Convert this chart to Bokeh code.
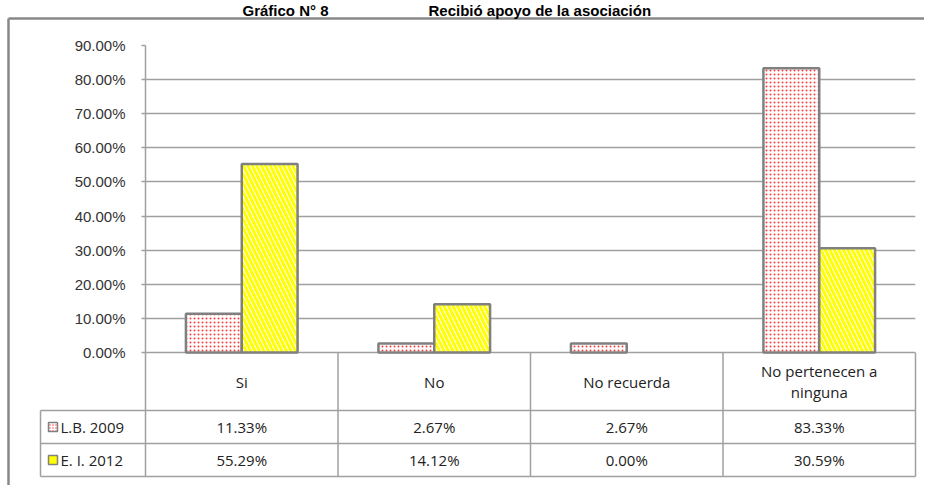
from bokeh.plotting import figure
from bokeh.models import FactorRange, Range1d, FixedTicker, PrintfTickFormatter, ColumnDataSource
from bokeh.transform import dodge
from bokeh.embed import file_html
from bokeh.resources import INLINE
from bokeh.core.properties import value

# ---- data ----
categories = ["Si", "No", "No recuerda", "No pertenecen a ninguna"]
header_labels = ["Si", "No", "No recuerda", "No pertenecen a\nninguna"]
series_names = ["L.B. 2009", "E. I. 2012"]
lb_2009 = [11.33, 2.67, 2.67, 83.33]
ei_2012 = [55.29, 14.12, 0.00, 30.59]
y_ticks = [0, 10, 20, 30, 40, 50, 60, 70, 80, 90]
title_left = "Gráfico N° 8"
title_right = "Recibió apoyo de la asociación"

# ---- layout geometry (pixels) ----
W, H = 924, 485
FL, FR, FT, FB = 145, 915, 45, 476          # frame edges on canvas
CHART_PX = 307                               # 0..90 %
PPU = CHART_PX / 90.0                        # px per % unit
COL_PX = (FR - FL) / 4.0                     # px per category
HEADER_H = 58 / PPU
ROW_H = 33 / PPU
Y_MIN = -(HEADER_H + 2 * ROW_H)
LEG_X0 = -105 / COL_PX                       # left edge of legend column

GRID = "#a0a0a0"
TXT = "#222222"

p = figure(width=W, height=H, x_range=FactorRange(*categories), y_range=Range1d(Y_MIN, 90),
           output_backend="svg", toolbar_location=None, x_axis_location=None,
           min_border_left=FL, min_border_right=W - FR, min_border_top=FT, min_border_bottom=H - FB,
           outline_line_color=None, background_fill_color="white", border_fill_color="white")

# y axis
ya = p.yaxis[0]
ya.ticker = FixedTicker(ticks=y_ticks)
ya.formatter = PrintfTickFormatter(format="%.2f%%")
ya.axis_line_color = GRID
ya.axis_line_width = 1.5
ya.major_tick_line_color = GRID
ya.major_tick_line_width = 1.5
ya.major_tick_out = 4
ya.major_tick_in = 0
ya.minor_tick_line_color = None
ya.major_label_standoff = 16
ya.major_label_text_font = "Liberation Sans"
ya.major_label_text_font_size = "15px"
ya.major_label_text_color = "#333333"

p.xgrid.grid_line_color = None
p.ygrid.grid_line_color = GRID
p.ygrid.grid_line_width = 1.5

src = ColumnDataSource(dict(cat=categories, lb=lb_2009, ei=ei_2012,
                            lb_line=[0.0 if v == 0 else 1.0 for v in lb_2009],
                            ei_line=[0.0 if v == 0 else 1.0 for v in ei_2012],
                            lb_txt=[f"{v:.2f}%" for v in lb_2009],
                            ei_txt=[f"{v:.2f}%" for v in ei_2012],
                            head=header_labels))

BAR_W = 0.29
p.vbar(x=dodge("cat", -BAR_W / 2, range=p.x_range), top="lb", width=BAR_W, bottom=0, source=src,
       fill_color="white", line_color="#808080", line_width=2.5, line_alpha="lb_line",
       hatch_pattern="dot", hatch_color="#ff3b3b", hatch_scale=4, hatch_weight=1.5)
p.vbar(x=dodge("cat", BAR_W / 2, range=p.x_range), top="ei", width=BAR_W, bottom=0, source=src,
       fill_color="white", line_color="#808080", line_width=2.5, line_alpha="ei_line",
       hatch_pattern="\\", hatch_color="#ffff00", hatch_scale=9, hatch_weight=3)

# ---- data table under the chart ----
y_h = -HEADER_H
y_r1 = -(HEADER_H + ROW_H)
y_r2 = Y_MIN
seg = dict(
    x0=[LEG_X0, LEG_X0, LEG_X0, 1, 2, 3, 4, LEG_X0],
    y0=[y_h, y_r1, y_r2, 0, 0, 0, 0, y_h],
    x1=[4, 4, 4, 1, 2, 3, 4, LEG_X0],
    y1=[y_h, y_r1, y_r2, y_r2, y_r2, y_r2, y_r2, y_r2],
)
r = p.segment(source=ColumnDataSource(seg), x0="x0", y0="y0", x1="x1", y1="y1",
              line_color=GRID, line_width=1.5)
r.level = "overlay"

p.text(x="cat", y=-HEADER_H / 2, text="head", source=src, text_align="center", text_baseline="middle",
       text_font=value("Open Sans"), text_font_size="15px", text_color=TXT, text_line_height=1.05)
p.text(x="cat", y=-(HEADER_H + ROW_H / 2), text="lb_txt", source=src, text_align="center",
       text_baseline="middle", text_font=value("Open Sans"), text_font_size="15px", text_color=TXT)
p.text(x="cat", y=-(HEADER_H + 1.5 * ROW_H), text="ei_txt", source=src, text_align="center",
       text_baseline="middle", text_font=value("Open Sans"), text_font_size="15px", text_color=TXT)

leg_y = [-(HEADER_H + ROW_H / 2), -(HEADER_H + 1.5 * ROW_H)]
sw_x = LEG_X0 + 12.5 / COL_PX
txt_x = LEG_X0 + 20 / COL_PX
r = p.rect(x=[sw_x], y=[leg_y[0]], width=9, height=9, width_units="screen", height_units="screen",
           fill_color="white", line_color="#808080", line_width=1.5,
           hatch_pattern="dot", hatch_color="#ff3b3b", hatch_scale=3, hatch_weight=1)
r.level = "overlay"
r = p.rect(x=[sw_x], y=[leg_y[1]], width=9, height=9, width_units="screen", height_units="screen",
           fill_color="white", line_color="#808080", line_width=1.5,
           hatch_pattern="\\", hatch_color="#ffff00", hatch_scale=6, hatch_weight=3)
r.level = "overlay"
r = p.text(x=[txt_x, txt_x], y=leg_y, text=series_names, text_align="left", text_baseline="middle",
           text_font=value("Open Sans"), text_font_size="15px", text_color=TXT)
r.level = "overlay"

# ---- outer frame and title ----
bx = -(FL - 8) / COL_PX
by = 90 + (FT - 18) / PPU
r = p.segment(x0=[bx, bx], y0=[by, by], x1=[bx, 5], y1=[Y_MIN - 20, by],
              line_color="#888888", line_width=2.5)
r.level = "overlay"

ty = 90 + (FT - 1) / PPU
r = p.text(x=[(242 - FL) / COL_PX, (428 - FL) / COL_PX], y=[ty, ty],
           text=[title_left, title_right], text_align="left", text_baseline="top",
           text_font=value("Liberation Sans"), text_font_size="15px", text_font_style="bold",
           text_color="black")
r.level = "overlay"

open("out.html", "w").write(file_html(p, INLINE))
